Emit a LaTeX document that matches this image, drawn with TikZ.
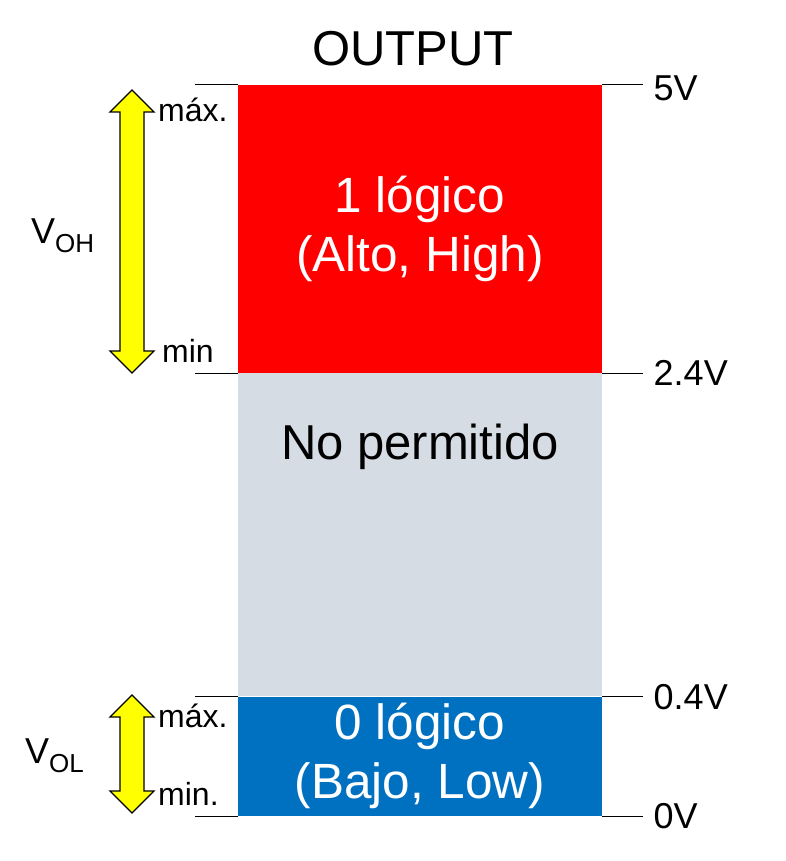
\documentclass[tikz,border=0pt]{standalone}
\usepackage{fontspec}
\setmainfont{Liberation Sans}
\usetikzlibrary{positioning}
\definecolor{highred}{HTML}{FF0000}
\definecolor{forbidgrey}{HTML}{D6DCE4}
\definecolor{lowblue}{HTML}{0070C0}
\definecolor{arrowyellow}{HTML}{FFFF00}
\tikzset{
  level_box/.style={minimum width=364pt, inner sep=0pt, text=white, align=center,
      font=\fontsize{49.5}{59}\selectfont},
  tick_line/.style={line width=1pt},
  volt_label/.style={anchor=west, xshift=10pt, inner sep=0pt, font=\fontsize{36}{36}\selectfont},
  range_label/.style={anchor=base west, inner sep=0pt, font=\fontsize{32}{32}\selectfont},
  v_label/.style={anchor=base west, inner sep=0pt, font=\fontsize{36}{36}\selectfont},
  yellow_arrow/.style={fill=arrowyellow, draw=black, line width=1.3pt, line join=miter}
}
\def\ArrowX {132}
\def\SubV #1{\raisebox{-9pt}{\fontsize{26}{26}\selectfont #1}}

\begin{document}
\begin{tikzpicture}[x=1pt, y=-1pt]
        \useasboundingbox (0,0) rectangle (786,861);
        \node[font=\fontsize{49}{49}\selectfont, anchor=base] (title) at (413,66) {OUTPUT};
        % logic levels
        \node[level_box, fill=highred, minimum height=288pt] (high) at (420,229) {1 lógico\\(Alto, High)};
        \node[level_box, fill=forbidgrey, minimum height=323pt, below=0pt of high] (forbid) {};
        \node[level_box, fill=lowblue, minimum height=119pt, below=0pt of forbid] (low) {0 lógico\\(Bajo, Low)};
        \node[font=\fontsize{49}{49}\selectfont, anchor=base] (forbidtext) at (420,459) {No permitido};
        % voltage ticks
        \foreach \anc/\volt/\name/\dy in {high.north/5V/vfive/3, high.south/2.4V/vhigh/0, low.north/0.4V/vlow/0, low.south/0V/vzero/0} {
            \draw[tick_line] (\anc -| high.west) -- ++(-43,0);
            \draw[tick_line] (\anc -| high.east) -- ++(41,0) node[volt_label, yshift=-\dy pt] (\name) {\volt};
          }
        % yellow ranges
        \foreach \t/\b in {90/373, 695/813} {
            \draw[yellow_arrow] (\ArrowX,\t) -- ++(22,22) -- ++(-10,0) -- (\ArrowX+12,\b-22) -- ++(10,0)
              -- (\ArrowX,\b) -- ++(-22,-22) -- ++(10,0) -- (\ArrowX-12,\t+22) -- ++(-10,0) -- cycle;
          }
        \node[range_label] (hmax) at (158,122) {máx.};
        \node[range_label] (hmin) at (162,362) {min};
        \node[range_label] (lmax) at (158,727) {máx.};
        \node[range_label] (lmin) at (158,805) {min.};
        \node[v_label] (voh) at (31,243) {V\SubV{OH}};
        \node[v_label] (vol) at (25,763) {V\SubV{OL}};
      \end{tikzpicture}
\end{document}
